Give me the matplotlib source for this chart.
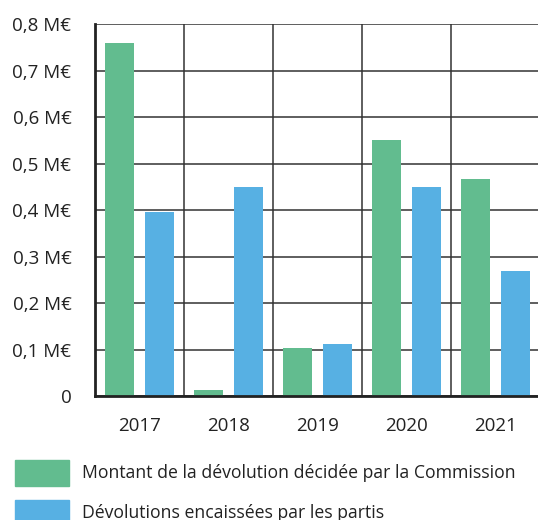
import numpy as np
import matplotlib
matplotlib.use("Agg")
import matplotlib.pyplot as plt
from matplotlib.patches import Rectangle

plt.rcParams["font.family"] = ["Open Sans", "DejaVu Sans"]

years = ["2017", "2018", "2019", "2020", "2021"]
decided = [0.759, 0.013, 0.103, 0.550, 0.466]    # M€
collected = [0.395, 0.449, 0.112, 0.449, 0.270]  # M€
yticks = [0, 0.1, 0.2, 0.3, 0.4, 0.5, 0.6, 0.7, 0.8]
ytick_labels = ["0", "0,1 M€", "0,2 M€", "0,3 M€", "0,4 M€", "0,5 M€", "0,6 M€", "0,7 M€", "0,8 M€"]
legend_labels = ["Montant de la dévolution décidée par la Commission",
                 "Dévolutions encaissées par les partis"]
colors = ["#62BC8F", "#57B0E3"]

fig = plt.figure(figsize=(5.38, 5.20), dpi=100)
ax = fig.add_axes([95 / 538, 1 - 396 / 520, 445 / 538, (396 - 24.3) / 520])

x = np.arange(len(years))
w = 0.326
ax.bar(x - 0.225, decided, width=w, color=colors[0], zorder=3)
ax.bar(x + 0.225, collected, width=w, color=colors[1], zorder=3)

ax.set_xlim(-0.5, 4.5)
ax.set_ylim(0, 0.8)
ax.set_xticks(x)
ax.set_xticklabels(years)
ax.set_xticks(np.arange(-0.5, 4.6, 1), minor=True)
ax.set_yticks(yticks)
ax.set_yticklabels(ytick_labels)
ax.tick_params(axis="both", which="both", length=0, labelsize=13.5, colors="#222222")
ax.tick_params(axis="y", pad=17)
ax.tick_params(axis="x", pad=15)

ax.grid(True, axis="y", which="major", color="#333333", linewidth=1.1, zorder=0)
ax.grid(True, axis="x", which="minor", color="#333333", linewidth=1.1, zorder=0)

for s in ["top", "right"]:
    ax.spines[s].set_visible(False)
for s in ["left", "bottom"]:
    ax.spines[s].set_color("#222222")
    ax.spines[s].set_linewidth(2)
    ax.spines[s].set_zorder(4)

# legend, drawn by hand under the chart
for i, (lab, c) in enumerate(zip(legend_labels, colors)):
    y0 = 460 + i * 40
    fig.add_artist(Rectangle((15 / 538, 1 - (y0 + 26) / 520), 54 / 538, 26 / 520,
                             transform=fig.transFigure, color=c))
    fig.text(82 / 538, 1 - (y0 + 13) / 520, lab, fontsize=12.7, va="center",
             ha="left", color="#222222")

fig.savefig("out.png", dpi=100)
